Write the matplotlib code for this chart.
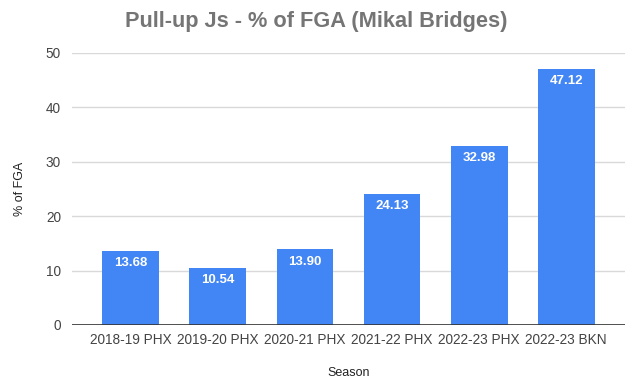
import matplotlib.pyplot as plt

plt.rcParams['font.family'] = ['Liberation Sans', 'DejaVu Sans']

seasons = ['2018-19 PHX', '2019-20 PHX', '2020-21 PHX', '2021-22 PHX', '2022-23 PHX', '2022-23 BKN']
pct_fga = [13.68, 10.54, 13.90, 24.13, 32.98, 47.12]

fig = plt.figure(figsize=(6.32, 3.83), dpi=100)
ax = fig.add_axes([72 / 632, 1 - 325 / 383, 553 / 632, 272 / 383])

x = range(len(seasons))
bars = ax.bar(x, pct_fga, width=0.655, color='#4285F4', zorder=3)

for xi, v in zip(x, pct_fga):
    ax.text(xi, v - 1.2, '%.2f' % v, ha='center', va='top', color='white',
            fontsize=9.5, fontweight='bold', zorder=4)

ax.set_xlim(-0.678, 5.678)
ax.set_ylim(0, 50)
ax.set_yticks([0, 10, 20, 30, 40, 50])
ax.set_xticks(list(x))
ax.set_xticklabels(seasons)
ax.grid(axis='y', color='#d9d9d9', linewidth=1, zorder=0)
ax.axhline(0, color='#333333', linewidth=1.2, zorder=5)
for s in ax.spines.values():
    s.set_visible(False)
ax.tick_params(axis='both', length=0, labelsize=9.8, colors='#444444', pad=6)
ax.tick_params(axis='y', pad=8)

ax.set_xlabel('Season', fontsize=9, color='#222222', labelpad=14)
ax.set_ylabel('% of FGA', fontsize=9, color='#222222', labelpad=14)
fig.text(0.5, 1 - 22 / 383, 'Pull-up Js - % of FGA (Mikal Bridges)', ha='center', va='center',
         fontsize=15.7, fontweight='bold', color='#757575')

fig.savefig('out.png', dpi=100)
